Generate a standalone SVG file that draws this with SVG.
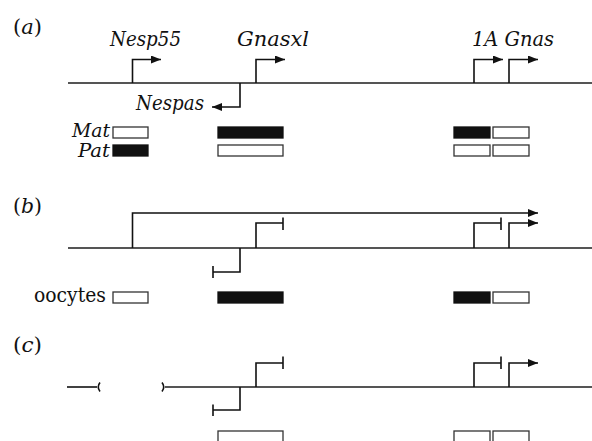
<svg xmlns="http://www.w3.org/2000/svg" width="592" height="441" viewBox="0 0 592 441">
<defs>
<marker id="ah" viewBox="0 0 10 8" refX="10" refY="4" markerWidth="10" markerHeight="8" markerUnits="userSpaceOnUse" orient="auto">
<path d="M0,0 L10,4 L0,8 Z" fill="#111"/>
</marker>
</defs>
<style>
.dna{stroke:#555;stroke-width:2;fill:none}
.pr{stroke:#111;stroke-width:1.6;fill:none}
.wb{fill:#fff;stroke:#333;stroke-width:1.3}
.bb{fill:#111;stroke:#111;stroke-width:1.3}
text{font-family:"DejaVu Serif","Liberation Serif",serif;fill:#111}
.t{font-size:21px}
.i{font-style:italic}
.lab{font-size:20px}
</style>
<rect width="592" height="441" fill="#fff"/>
<g id="panel-a">
<text class="lab" x="13" y="34" textLength="29" lengthAdjust="spacingAndGlyphs">(<tspan class="i">a</tspan>)</text>
<line class="dna" x1="68" y1="83" x2="592" y2="83"/>
<g id="a-nesp55"><text class="t i" x="110" y="46" textLength="71" lengthAdjust="spacingAndGlyphs">Nesp55</text></g>
<g id="a-gnasxl"><text class="t i" x="237" y="46" textLength="72" lengthAdjust="spacingAndGlyphs">Gnasxl</text></g>
<g id="a-nespas"><text class="t i" x="136" y="110" textLength="68" lengthAdjust="spacingAndGlyphs">Nespas</text></g>
<g id="a-1agnas"><text class="t i" x="472" y="46" textLength="82" lengthAdjust="spacingAndGlyphs">1A Gnas</text></g>
<g id="a-mat"><text class="i" font-size="18" x="72" y="137" textLength="38" lengthAdjust="spacingAndGlyphs">Mat</text></g>
<g id="a-pat"><text class="i" font-size="18" x="78" y="157" textLength="32" lengthAdjust="spacingAndGlyphs">Pat</text></g>
<rect class="wb" x="113" y="127" width="35" height="11"/>
<rect class="bb" x="113" y="145" width="35" height="11"/>
<rect class="bb" x="218" y="127" width="65" height="11"/>
<rect class="wb" x="218" y="145" width="65" height="11"/>
<rect class="bb" x="454" y="127" width="36" height="11"/>
<rect class="wb" x="493" y="127" width="36" height="11"/>
<rect class="wb" x="454" y="145" width="36" height="11"/>
<rect class="wb" x="493" y="145" width="36" height="11"/>
</g>
<g id="panel-b">
<text class="lab" x="13" y="213" textLength="29" lengthAdjust="spacingAndGlyphs">(<tspan class="i">b</tspan>)</text>
<line class="dna" x1="68" y1="248" x2="592" y2="248"/>
<g id="b-oocytes"><text class="t" x="34" y="302" textLength="72" lengthAdjust="spacingAndGlyphs">oocytes</text></g>
<rect class="wb" x="113" y="292" width="35" height="11"/>
<rect class="bb" x="218" y="292" width="65" height="11"/>
<rect class="bb" x="454" y="292" width="36" height="11"/>
<rect class="wb" x="493" y="292" width="36" height="11"/>
</g>
<g id="panel-c">
<text class="lab" x="13" y="352" textLength="29" lengthAdjust="spacingAndGlyphs">(<tspan class="i">c</tspan>)</text>
<line class="pr" x1="67" y1="387" x2="97" y2="387" stroke-width="1.4"/>
<path class="pr" d="M100,382.5 Q96.5,387 100,391.5" stroke-width="1.4"/>
<path class="pr" d="M162,382.5 Q165.5,387 162,391.5" stroke-width="1.4"/>
<line class="dna" x1="165" y1="387" x2="592" y2="387"/>
<rect class="wb" x="218" y="431" width="65" height="14"/>
<rect class="wb" x="454" y="431" width="36" height="14"/>
<rect class="wb" x="493" y="431" width="36" height="14"/>
</g>
<g id="connectors">
<path class="pr" d="M132.5,83 V59.5 H161" marker-end="url(#ah)"/>
<path class="pr" d="M256,83 V59.5 H285" marker-end="url(#ah)"/>
<path class="pr" d="M240,83 V107 H212" marker-end="url(#ah)"/>
<path class="pr" d="M474,83 V59.5 H503" marker-end="url(#ah)"/>
<path class="pr" d="M509,83 V59.5 H538" marker-end="url(#ah)"/>
<path class="pr" d="M132.5,248 V213 H538" marker-end="url(#ah)"/>
<path class="pr" d="M256,248 V223 H283 M283,217.5 V230"/>
<path class="pr" d="M240,248 V272 H213 M213,266 V278"/>
<path class="pr" d="M474,248 V223 H501 M501,217.5 V230"/>
<path class="pr" d="M509,248 V223 H538" marker-end="url(#ah)"/>
<path class="pr" d="M256,387 V363 H283 M283,356.5 V369"/>
<path class="pr" d="M240,387 V410 H213 M213,404.5 V416"/>
<path class="pr" d="M474,387 V363 H501 M501,356.5 V369"/>
<path class="pr" d="M509,387 V363 H538" marker-end="url(#ah)"/>
</g>
</svg>
